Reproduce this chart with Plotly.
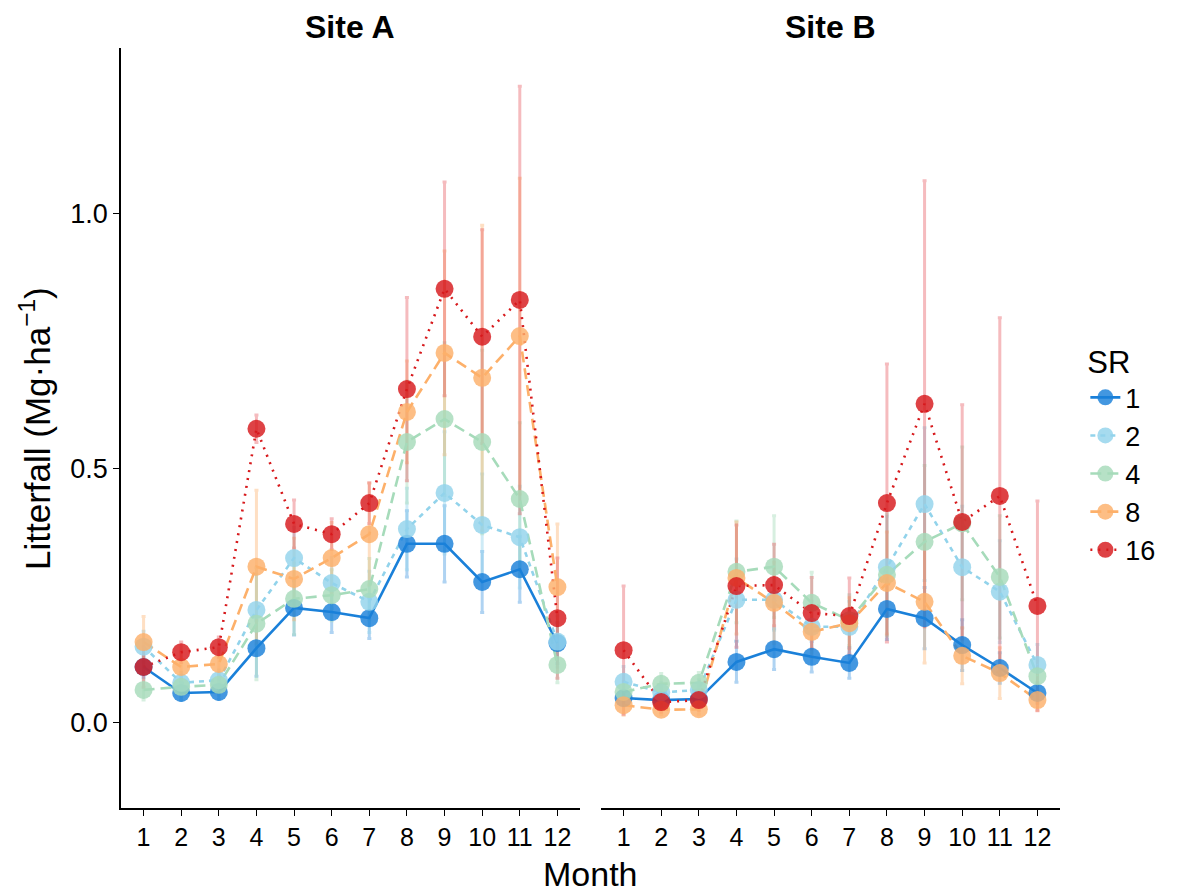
import plotly.graph_objects as go

months = list(range(1, 13))
sr_levels = ["1", "2", "4", "8", "16"]
sites = ["Site A", "Site B"]

# Site A means
a_sr1 = [0.110, 0.059, 0.061, 0.147, 0.226, 0.218, 0.206, 0.352, 0.352, 0.277, 0.302, 0.157]
a_sr2 = [0.150, 0.079, 0.084, 0.222, 0.324, 0.275, 0.238, 0.381, 0.452, 0.389, 0.365, 0.160]
a_sr4 = [0.065, 0.071, 0.075, 0.195, 0.244, 0.251, 0.263, 0.552, 0.597, 0.552, 0.440, 0.114]
a_sr8 = [0.159, 0.110, 0.116, 0.307, 0.283, 0.324, 0.371, 0.611, 0.727, 0.678, 0.760, 0.267]
a_sr16 = [0.110, 0.139, 0.149, 0.578, 0.391, 0.371, 0.432, 0.656, 0.853, 0.759, 0.831, 0.206]
# Site A standard errors
a_se1 = [0.020, 0.015, 0.015, 0.055, 0.053, 0.040, 0.040, 0.065, 0.075, 0.060, 0.065, 0.040]
a_se2 = [0.030, 0.020, 0.020, 0.070, 0.060, 0.050, 0.060, 0.080, 0.120, 0.100, 0.100, 0.050]
a_se4 = [0.020, 0.020, 0.020, 0.110, 0.070, 0.050, 0.060, 0.120, 0.150, 0.180, 0.150, 0.035]
a_se8 = [0.050, 0.030, 0.030, 0.150, 0.080, 0.070, 0.100, 0.100, 0.200, 0.300, 0.310, 0.124]
a_se16 = [0.040, 0.020, 0.020, 0.027, 0.047, 0.030, 0.040, 0.180, 0.210, 0.210, 0.420, 0.118]

# Site B means
b_sr1 = [0.049, 0.045, 0.047, 0.120, 0.145, 0.130, 0.118, 0.224, 0.206, 0.153, 0.108, 0.059]
b_sr2 = [0.081, 0.060, 0.065, 0.242, 0.242, 0.189, 0.189, 0.306, 0.430, 0.306, 0.258, 0.114]
b_sr4 = [0.061, 0.077, 0.079, 0.297, 0.307, 0.236, 0.202, 0.291, 0.356, 0.392, 0.287, 0.092]
b_sr8 = [0.035, 0.026, 0.027, 0.285, 0.236, 0.179, 0.196, 0.275, 0.238, 0.132, 0.098, 0.045]
b_sr16 = [0.143, 0.041, 0.045, 0.269, 0.271, 0.216, 0.210, 0.432, 0.627, 0.395, 0.446, 0.230]
# Site B standard errors
b_se1 = [0.015, 0.010, 0.010, 0.040, 0.040, 0.030, 0.030, 0.060, 0.060, 0.050, 0.030, 0.020]
b_se2 = [0.030, 0.020, 0.020, 0.080, 0.060, 0.050, 0.050, 0.100, 0.150, 0.120, 0.100, 0.040]
b_se4 = [0.020, 0.020, 0.020, 0.100, 0.100, 0.060, 0.050, 0.120, 0.150, 0.150, 0.120, 0.030]
b_se8 = [0.020, 0.010, 0.010, 0.110, 0.080, 0.050, 0.050, 0.100, 0.120, 0.055, 0.050, 0.020]
b_se16 = [0.126, 0.020, 0.020, 0.120, 0.080, 0.070, 0.075, 0.273, 0.438, 0.230, 0.350, 0.206]

means = {"Site A": [a_sr1, a_sr2, a_sr4, a_sr8, a_sr16],
         "Site B": [b_sr1, b_sr2, b_sr4, b_sr8, b_sr16]}
ses = {"Site A": [a_se1, a_se2, a_se4, a_se8, a_se16],
       "Site B": [b_se1, b_se2, b_se4, b_se8, b_se16]}

colors = ["#1A80D9", "#92D3EB", "#A6DBBA", "#FDB06A", "#D7191C"]
err_colors = ["rgba(26,128,217,0.35)", "rgba(146,211,235,0.45)", "rgba(166,219,186,0.45)",
              "rgba(253,176,106,0.4)", "rgba(225,60,70,0.35)"]
dashes = ["solid", "5px,5px", "11px,6px", "11px,6px", "2px,6px"]

FONT = "Liberation Sans, Arial, Helvetica, sans-serif"
fig = go.Figure()

axes = {"Site A": ("x", "y"), "Site B": ("x2", "y")}

# error bars
for site in sites:
    xa, ya = axes[site]
    for i, sr in enumerate(sr_levels):
        fig.add_trace(go.Scatter(
            x=months, y=means[site][i], mode="markers", xaxis=xa, yaxis=ya,
            marker=dict(size=1, opacity=0), showlegend=False, hoverinfo="skip",
            error_y=dict(type="data", array=ses[site][i], visible=True,
                         color=err_colors[i], thickness=3, width=2)))
# lines
for site in sites:
    xa, ya = axes[site]
    for i, sr in enumerate(sr_levels):
        fig.add_trace(go.Scatter(
            x=months, y=means[site][i], mode="lines", xaxis=xa, yaxis=ya,
            line=dict(color=colors[i], width=2.6, dash=dashes[i]),
            showlegend=False, hoverinfo="skip"))
# points
for site in sites:
    xa, ya = axes[site]
    for i, sr in enumerate(sr_levels):
        fig.add_trace(go.Scatter(
            x=months, y=means[site][i], mode="markers", xaxis=xa, yaxis=ya,
            marker=dict(size=18, color=colors[i], opacity=0.82, line=dict(width=0)),
            showlegend=False, name=sr))
# legend entries
for i, sr in enumerate(sr_levels):
    fig.add_trace(go.Scatter(
        x=[None], y=[None], mode="lines+markers", name=sr, legendgroup=sr,
        line=dict(color=colors[i], width=2.6, dash=dashes[i]),
        marker=dict(size=18, color=colors[i], opacity=0.82)))

xax = dict(range=[0.4, 12.6], tickvals=months, ticktext=[str(m) for m in months],
           showline=True, linecolor="black", linewidth=1.6, ticks="outside",
           ticklen=6, tickwidth=1.4, tickcolor="black", showgrid=False, zeroline=False,
           automargin=False,
           tickfont=dict(size=25, color="black", family=FONT))

fig.update_layout(
    width=1181, height=891,
    paper_bgcolor="white", plot_bgcolor="white",
    margin=dict(l=113, r=129, t=40, b=91, autoexpand=False),
    font=dict(family=FONT, color="black"),
    xaxis=dict(domain=[0, 0.4888], anchor="y", **xax),
    xaxis2=dict(domain=[0.5112, 1], anchor="y", **xax),
    yaxis=dict(range=[-0.167, 1.326], tickvals=[0, 0.5, 1.0], ticktext=["0.0", "0.5", "1.0"],
               showline=True, linecolor="black", linewidth=1.6, ticks="outside",
               ticklen=6, tickwidth=1.4, tickcolor="black", showgrid=False, zeroline=False,
               automargin=False,
               tickfont=dict(size=27, color="black", family=FONT)),
    legend=dict(x=1.027, y=0.625, xanchor="left", yanchor="top",
                title=dict(text="SR", font=dict(size=31, family=FONT)),
                font=dict(size=27, family=FONT), tracegroupgap=0,
                itemwidth=30, bgcolor="rgba(0,0,0,0)"),
    annotations=[
        dict(text="<b>Site A</b>", x=0.2444, y=1.0, xref="paper", yref="paper",
             xanchor="center", yanchor="bottom", yshift=1, showarrow=False,
             font=dict(size=32, family=FONT)),
        dict(text="<b>Site B</b>", x=0.7556, y=1.0, xref="paper", yref="paper",
             xanchor="center", yanchor="bottom", yshift=1, showarrow=False,
             font=dict(size=32, family=FONT)),
        dict(text="Month", x=0.5, y=0, xref="paper", yref="paper",
             xanchor="center", yanchor="top", yshift=-45, showarrow=False,
             font=dict(size=34, family=FONT)),
        dict(text="Litterfall (Mg·ha<sup>−1</sup>)", x=-0.0916, y=0.5,
             xref="paper", yref="paper", xanchor="center", yanchor="middle",
             textangle=-90, showarrow=False, font=dict(size=35, family=FONT)),
    ],
)

fig.write_html("out.html")
